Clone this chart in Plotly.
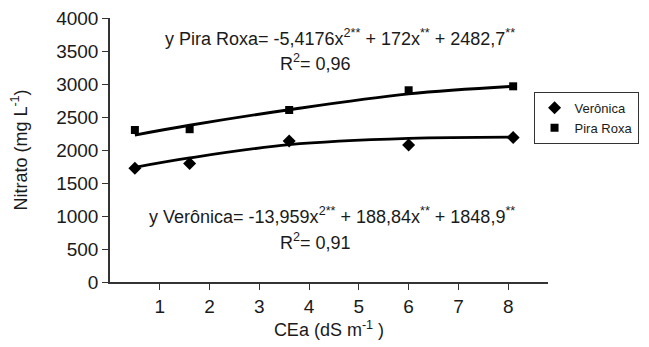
import plotly.graph_objects as go

# dados
cea = [0.5, 1.6, 3.6, 6.0, 8.1]
veronica = [1722, 1795, 2138, 2076, 2190]
pira_roxa = [2303, 2315, 2606, 2905, 2965]

# linhas de tendência
trend_x = [0.5, 1.6, 3.6, 6.0, 8.1]
trend_veronica = [1738, 1880, 2080, 2175, 2195]
trend_pira = [2227, 2375, 2610, 2850, 2965]

x_ticks = [1, 2, 3, 4, 5, 6, 7, 8]
y_ticks = [0, 500, 1000, 1500, 2000, 2500, 3000, 3500, 4000]

FONT = 'Liberation Sans, Arial, sans-serif'
INK = '#1a1a1a'

fig = go.Figure()

fig.add_trace(go.Scatter(x=trend_x, y=trend_veronica, mode='lines', line=dict(color='black', width=2.8, shape='spline'),
	showlegend=False, hoverinfo='skip'))
fig.add_trace(go.Scatter(x=trend_x, y=trend_pira, mode='lines', line=dict(color='black', width=2.8, shape='spline'),
	showlegend=False, hoverinfo='skip'))

fig.add_trace(go.Scatter(x=cea, y=veronica, mode='markers', name='Verônica',
	marker=dict(symbol='diamond', size=10, color='black')))
fig.add_trace(go.Scatter(x=cea, y=pira_roxa, mode='markers', name='Pira Roxa',
	marker=dict(symbol='square', size=8, color='black')))

# equações
fig.add_annotation(x=4.62, y=3700, xref='x', yref='y', showarrow=False,
	text='y Pira Roxa= -5,4176x<sup>2**</sup> + 172x<sup>**</sup> + 2482,7<sup>**</sup>',
	font=dict(family=FONT, size=18, color=INK))
fig.add_annotation(x=4.13, y=3330, xref='x', yref='y', showarrow=False,
	text='R<sup>2</sup>= 0,96', font=dict(family=FONT, size=18, color=INK))
fig.add_annotation(x=4.47, y=1010, xref='x', yref='y', showarrow=False,
	text='y Verônica= -13,959x<sup>2**</sup> + 188,84x<sup>**</sup> + 1848,9<sup>**</sup>',
	font=dict(family=FONT, size=18, color=INK))
fig.add_annotation(x=4.13, y=610, xref='x', yref='y', showarrow=False,
	text='R<sup>2</sup>= 0,91', font=dict(family=FONT, size=18, color=INK))

# a página desloca a figura 8px (margem do body)
fig.update_layout(
	width=641, height=339,
	margin=dict(l=102, r=91, t=10, b=65),
	paper_bgcolor='white', plot_bgcolor='white',
	font=dict(family=FONT, size=19, color=INK),
	legend=dict(x=0.967, y=0.72, xanchor='left', yanchor='top', bordercolor='#333', borderwidth=1,
		font=dict(family=FONT, size=13, color=INK), itemwidth=30, tracegroupgap=2),
)
fig.update_xaxes(range=[0, 8.8], tickvals=x_ticks, ticks='outside', ticklen=6, tickcolor='#333',
	showline=True, linecolor='#333', linewidth=1.5, showgrid=False, zeroline=False, automargin=False,
	title=dict(text='CEa (dS m<sup>-1</sup> )', font=dict(size=18), standoff=8))
fig.update_yaxes(range=[0, 4000], tickvals=y_ticks, ticks='outside', ticklen=6, tickcolor='#333',
	showline=True, linecolor='#333', linewidth=1.5, showgrid=False, zeroline=False, automargin=False,
	ticklabeloverflow='allow',
	title=dict(text='Nitrato (mg L<sup>-1</sup>)', font=dict(size=18), standoff=24))

fig.write_html("out.html")
